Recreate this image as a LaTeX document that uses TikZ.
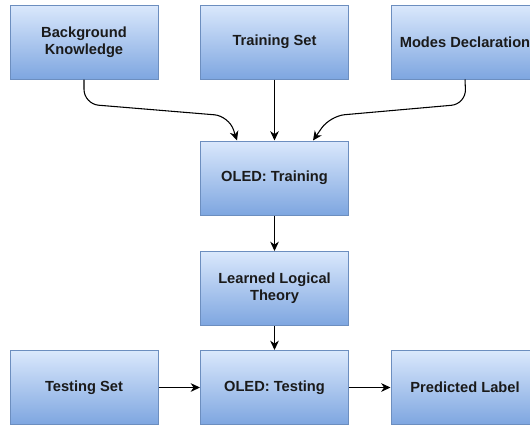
\documentclass[tikz,border=0pt]{standalone}
\usepackage{fontspec}
\setmainfont{Liberation Sans}
\usetikzlibrary{arrows.meta,calc}
\definecolor{boxtop}{HTML}{DAE8FC}
\definecolor{boxbot}{HTML}{7EA6E0}
\definecolor{boxline}{HTML}{6C8EBF}
\definecolor{txt}{HTML}{1A1A1A}
\tikzset{
  box/.style={draw=boxline, line width=0.75pt, top color=boxtop, bottom color=boxbot,
    minimum width=111pt, minimum height=55.5pt, inner sep=2pt, align=center,
    text=txt, font=\fontsize{11}{13}\selectfont\bfseries},
  conn/.style={draw=black, line width=0.8pt, -{Stealth[length=7pt,width=6.5pt,inset=2.2pt]}},
}
\begin{document}
\begin{tikzpicture}[x=0.75pt,y=-0.75pt]
\useasboundingbox (0,0) rectangle (530,425);
\clip (0,0) rectangle (530,425);
\fill[white] (0,0) rectangle (530,425);
\node[box] (bk) at (84,42) {Background\\Knowledge};
\node[box] (ts) at (274.5,42) {Training Set};
\node[box] (md) at (465,42) {Modes Declaration};
\node[box] (otr) at (274.5,178) {OLED: Training};
\node[box] (llt) at (274.5,288.5) {Learned Logical\\Theory};
\node[box] (tes) at (84,387.5) {Testing Set};
\node[box] (ote) at (274.5,387.5) {OLED: Testing};
\node[box] (pl) at (465,387.5) {Predicted Label};
\draw[conn, rounded corners=11pt] (bk.south) -- (84,104) -- (229,116) -- ($(otr.north)+(-37.5,0)$);
\draw[conn] (ts.south) -- (otr.north);
\draw[conn, rounded corners=11pt] (md.south) -- (466,104) -- (330,116) -- ($(otr.north)+(38.5,0)$);
\draw[conn] (otr.south) -- (llt.north);
\draw[conn] (llt.south) -- (ote.north);
\draw[conn] (tes.east) -- (ote.west);
\draw[conn] (ote.east) -- (pl.west);
\end{tikzpicture}
\end{document}
